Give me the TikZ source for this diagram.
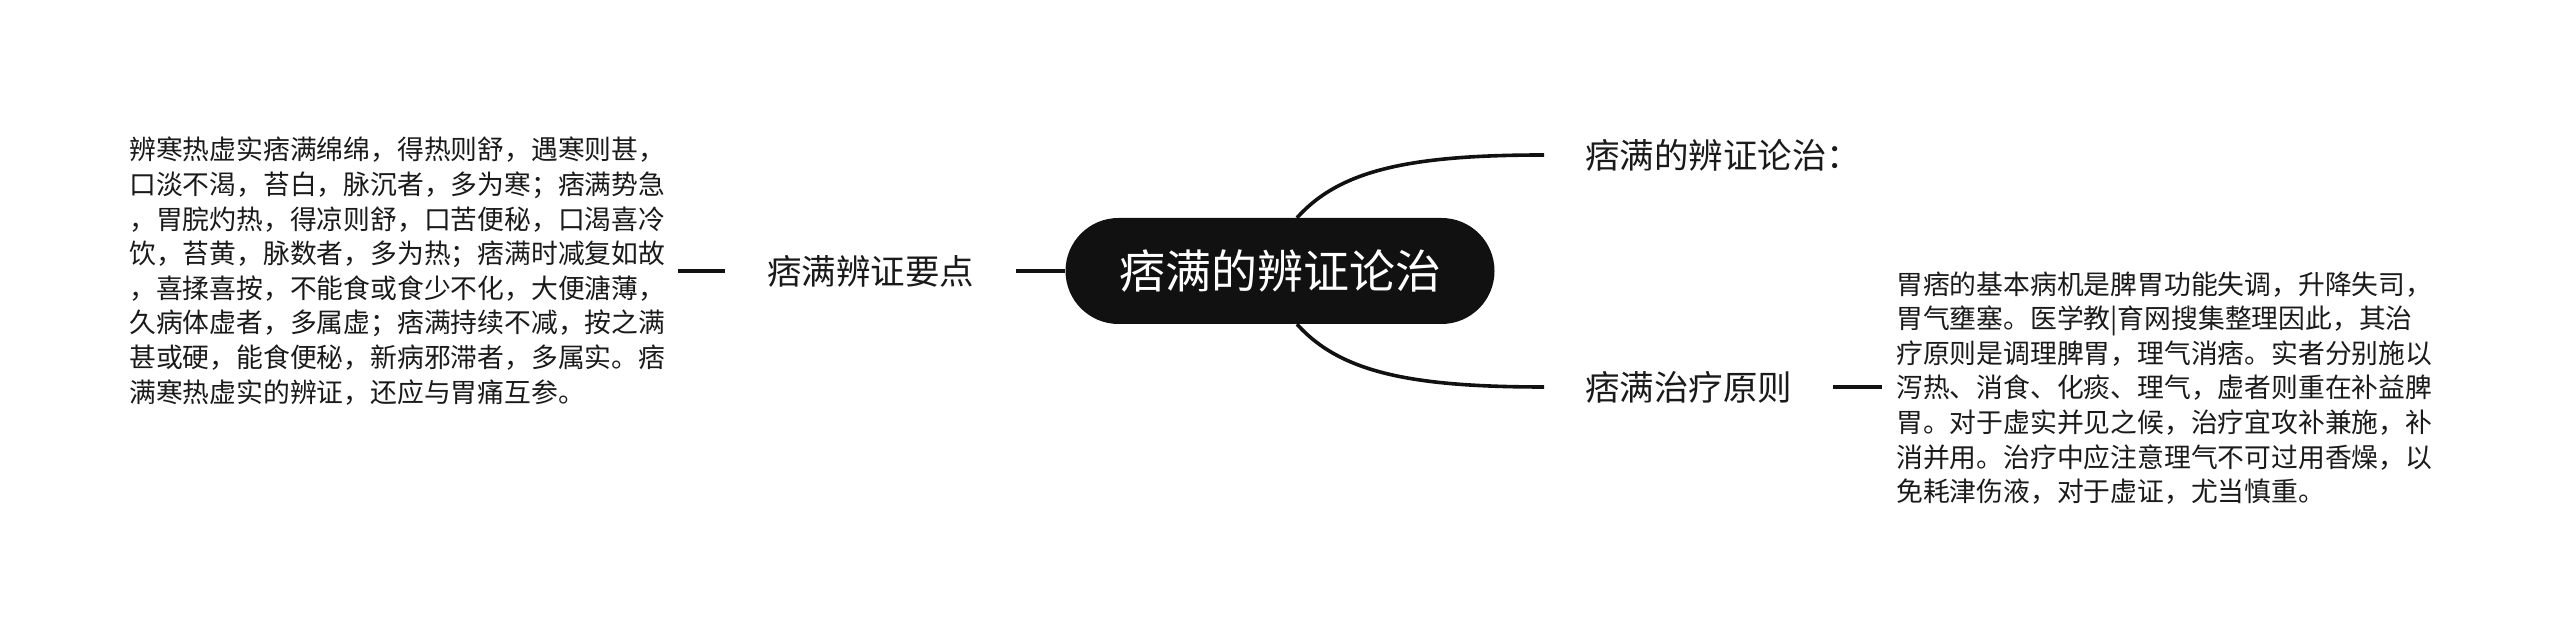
\documentclass[tikz,border=0pt]{standalone}
\usepackage{fontspec}
\setmainfont{Noto Sans CJK SC}
\definecolor{nodefill}{HTML}{111111}
\definecolor{ink}{HTML}{1A1A1A}
\begin{document}
\begin{tikzpicture}[x=1pt,y=1pt,
  link/.style={draw=nodefill,line width=3.6pt},
  rootbox/.style={fill=nodefill,text=white,rounded corners=53pt,minimum width=429pt,minimum height=106pt,inner sep=0pt,font=\fontsize{46}{50}\selectfont},
  branch/.style={text=ink,inner ysep=0pt,font=\fontsize{34.5}{40}\selectfont},
  leaf/.style={text=ink,align=left,inner ysep=0pt,font=\fontsize{26.8}{34.6}\selectfont}]
\useasboundingbox (0,0) rectangle (2560,636);
\node[rootbox] (root) at (1280,365) {痞满的辨证论治};
\node[branch,inner xsep=42pt] (lb) at (870.5,365) {痞满辨证要点};
\node[branch,inner xsep=41pt,anchor=west] (tb) at (1544,481) {痞满的辨证论治：};
\node[branch,inner xsep=41pt,anchor=west] (bb) at (1544,249) {痞满治疗原则};
\node[leaf,inner xsep=13pt,anchor=west] (lt) at (116,365) {辨寒热虚实痞满绵绵，得热则舒，遇寒则甚，\\口淡不渴，苔白，脉沉者，多为寒；痞满势急\\，胃脘灼热，得凉则舒，口苦便秘，口渴喜冷\\饮，苔黄，脉数者，多为热；痞满时减复如故\\，喜揉喜按，不能食或食少不化，大便溏薄，\\久病体虚者，多属虚；痞满持续不减，按之满\\甚或硬，能食便秘，新病邪滞者，多属实。痞\\满寒热虚实的辨证，还应与胃痛互参。};
\node[leaf,inner xsep=14pt,anchor=west] (rt) at (1882,248) {胃痞的基本病机是脾胃功能失调，升降失司，\\胃气壅塞。医学教|育网搜集整理因此，其治\\疗原则是调理脾胃，理气消痞。实者分别施以\\泻热、消食、化痰、理气，虚者则重在补益脾\\胃。对于虚实并见之候，治疗宜攻补兼施，补\\消并用。治疗中应注意理气不可过用香燥，以\\免耗津伤液，对于虚证，尤当慎重。};
\draw[link] (root.west) -- (lb.east);
\draw[link] (lb.west) -- (lt.east |- lb.west);
\draw[link] ([xshift=17pt]root.north) .. controls +(43,48) and +(-134,0) .. (tb.west);
\draw[link] ([xshift=17pt]root.south) .. controls +(43,-48) and +(-134,0) .. (bb.west);
\draw[link] (bb.east) -- (rt.west |- bb.east);
\end{tikzpicture}
\end{document}
